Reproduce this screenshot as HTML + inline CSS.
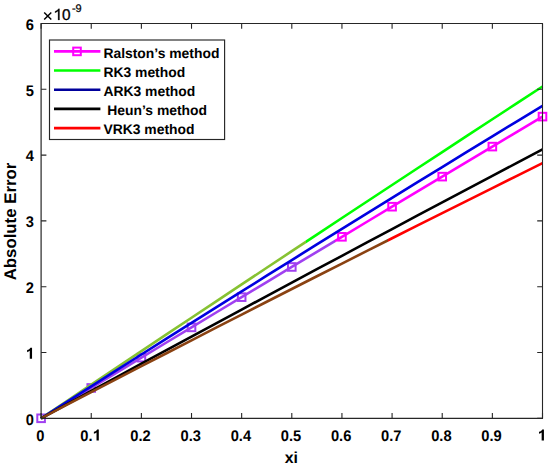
<!DOCTYPE html>
<html><head><meta charset="utf-8"><style>
html,body{margin:0;padding:0;background:#fff;}
svg{display:block;}
text{font-family:"Liberation Sans",sans-serif;}
</style></head><body>
<svg width="550" height="467" viewBox="0 0 550 467" text-rendering="geometricPrecision">
<rect width="550" height="467" fill="#fff"/>
<defs><linearGradient id="gm" gradientUnits="userSpaceOnUse" x1="41.1" y1="0" x2="542.5" y2="0"><stop offset="0.5862" stop-color="#a040f0"/><stop offset="0.5862" stop-color="#ff00ff"/></linearGradient><linearGradient id="gg" gradientUnits="userSpaceOnUse" x1="41.1" y1="0" x2="542.5" y2="0"><stop offset="0.5283" stop-color="#86c232"/><stop offset="0.5283" stop-color="#00ff00"/></linearGradient><linearGradient id="gr" gradientUnits="userSpaceOnUse" x1="41.1" y1="0" x2="542.5" y2="0"><stop offset="0.6919" stop-color="#8a4212"/><stop offset="0.6919" stop-color="#ff0000"/></linearGradient></defs>
<path d="M41.10 418.30 L66.17 403.12 L91.24 387.95 L116.31 372.79 L141.38 357.65 L166.45 342.51 L191.52 327.38 L216.59 312.26 L241.66 297.15 L266.73 282.05 L291.80 266.96 L316.87 251.88 L341.94 236.81 L367.01 221.75 L392.08 206.70 L417.15 191.66 L442.22 176.63 L467.29 161.61 L492.36 146.60 L517.43 131.60 L542.50 116.61" stroke="url(#gm)" stroke-width="2.6" fill="none" stroke-linejoin="round"/>
<rect x="37.30" y="414.50" width="7.6" height="7.6" fill="none" stroke="#a040f0" stroke-width="2"/><rect x="87.44" y="384.15" width="7.6" height="7.6" fill="none" stroke="#a040f0" stroke-width="2"/><rect x="137.58" y="353.85" width="7.6" height="7.6" fill="none" stroke="#a040f0" stroke-width="2"/><rect x="187.72" y="323.58" width="7.6" height="7.6" fill="none" stroke="#a040f0" stroke-width="2"/><rect x="237.86" y="293.35" width="7.6" height="7.6" fill="none" stroke="#a040f0" stroke-width="2"/><rect x="288.00" y="263.16" width="7.6" height="7.6" fill="none" stroke="#a040f0" stroke-width="2"/><rect x="338.14" y="233.01" width="7.6" height="7.6" fill="none" stroke="#ff00ff" stroke-width="2"/><rect x="388.28" y="202.90" width="7.6" height="7.6" fill="none" stroke="#ff00ff" stroke-width="2"/><rect x="438.42" y="172.83" width="7.6" height="7.6" fill="none" stroke="#ff00ff" stroke-width="2"/><rect x="488.56" y="142.80" width="7.6" height="7.6" fill="none" stroke="#ff00ff" stroke-width="2"/><rect x="538.70" y="112.81" width="7.6" height="7.6" fill="none" stroke="#ff00ff" stroke-width="2"/>
<path d="M41.10 418.30 L66.17 401.48 L91.24 384.68 L116.31 367.90 L141.38 351.16 L166.45 334.43 L191.52 317.73 L216.59 301.05 L241.66 284.40 L266.73 267.77 L291.80 251.17 L316.87 234.59 L341.94 218.03 L367.01 201.50 L392.08 185.00 L417.15 168.51 L442.22 152.06 L467.29 135.62 L492.36 119.22 L517.43 102.83 L542.50 86.47" stroke="url(#gg)" stroke-width="2.6" fill="none" stroke-linejoin="round"/>
<path d="M41.10 418.30 L66.17 402.29 L91.24 386.33 L116.31 370.40 L141.38 354.52 L166.45 338.67 L191.52 322.87 L216.59 307.10 L241.66 291.38 L266.73 275.70 L291.80 260.05 L316.87 244.45 L341.94 228.88 L367.01 213.36 L392.08 197.88 L417.15 182.43 L442.22 167.03 L467.29 151.66 L492.36 136.34 L517.43 121.06 L542.50 105.82" stroke="#0000e0" stroke-width="2.6" fill="none" stroke-linejoin="round"/>
<path d="M41.10 418.30 L66.17 404.62 L91.24 390.96 L116.31 377.33 L141.38 363.73 L166.45 350.15 L191.52 336.59 L216.59 323.06 L241.66 309.56 L266.73 296.08 L291.80 282.62 L316.87 269.19 L341.94 255.78 L367.01 242.40 L392.08 229.05 L417.15 215.72 L442.22 202.41 L467.29 189.13 L492.36 175.88 L517.43 162.65 L542.50 149.44" stroke="#000000" stroke-width="2.6" fill="none" stroke-linejoin="round"/>
<path d="M41.10 418.30 L66.17 405.21 L91.24 392.16 L116.31 379.14 L141.38 366.16 L166.45 353.22 L191.52 340.30 L216.59 327.43 L241.66 314.58 L266.73 301.78 L291.80 289.00 L316.87 276.27 L341.94 263.56 L367.01 250.89 L392.08 238.26 L417.15 225.66 L442.22 213.10 L467.29 200.57 L492.36 188.08 L517.43 175.62 L542.50 163.19" stroke="url(#gr)" stroke-width="2.6" fill="none" stroke-linejoin="round"/>
<path d="M41.10 418.3V413.0M41.10 23.5V28.8M91.24 418.3V413.0M91.24 23.5V28.8M141.38 418.3V413.0M141.38 23.5V28.8M191.52 418.3V413.0M191.52 23.5V28.8M241.66 418.3V413.0M241.66 23.5V28.8M291.80 418.3V413.0M291.80 23.5V28.8M341.94 418.3V413.0M341.94 23.5V28.8M392.08 418.3V413.0M392.08 23.5V28.8M442.22 418.3V413.0M442.22 23.5V28.8M492.36 418.3V413.0M492.36 23.5V28.8M542.50 418.3V413.0M542.50 23.5V28.8M41.1 418.30H46.4M542.5 418.30H537.2M41.1 352.50H46.4M542.5 352.50H537.2M41.1 286.70H46.4M542.5 286.70H537.2M41.1 220.90H46.4M542.5 220.90H537.2M41.1 155.10H46.4M542.5 155.10H537.2M41.1 89.30H46.4M542.5 89.30H537.2M41.1 23.50H46.4M542.5 23.50H537.2" stroke="#262626" stroke-width="1.1" fill="none"/>
<path d="M41.1 22.9V418.90000000000003" stroke="#262626" stroke-width="1.2" fill="none"/>
<path d="M542.5 22.9V418.90000000000003" stroke="#262626" stroke-width="1.1" fill="none"/>
<path d="M41.1 23.5H542.5" stroke="#262626" stroke-width="1.2" fill="none"/>
<path d="M41.1 418.3H542.5" stroke="#262626" stroke-width="1.2" fill="none"/>
<g font-weight="bold" font-size="14.7" fill="#000">
<g transform="translate(36.21 440.50) scale(1.0 1.05)"><text x="0.00" y="0">0</text></g>
<g transform="translate(80.22 440.50) scale(1.0 1.05)"><text x="0.00" y="0">0.</text><path d="M18.58 0.00L18.58 -10.53L16.89 -10.53C16.45 -9.63 15.20 -8.67 13.66 -8.31L13.66 -6.32C14.69 -6.62 15.57 -7.06 16.30 -7.57L16.30 0.00Z"/></g>
<g transform="translate(130.36 440.50) scale(1.0 1.05)"><text x="0.00" y="0">0.2</text></g>
<g transform="translate(180.50 440.50) scale(1.0 1.05)"><text x="0.00" y="0">0.3</text></g>
<g transform="translate(230.64 440.50) scale(1.0 1.05)"><text x="0.00" y="0">0.4</text></g>
<g transform="translate(280.78 440.50) scale(1.0 1.05)"><text x="0.00" y="0">0.5</text></g>
<g transform="translate(330.92 440.50) scale(1.0 1.05)"><text x="0.00" y="0">0.6</text></g>
<g transform="translate(381.06 440.50) scale(1.0 1.05)"><text x="0.00" y="0">0.7</text></g>
<g transform="translate(431.20 440.50) scale(1.0 1.05)"><text x="0.00" y="0">0.8</text></g>
<g transform="translate(481.34 440.50) scale(1.0 1.05)"><text x="0.00" y="0">0.9</text></g>
<g transform="translate(537.61 440.50) scale(1.0 1.05)"><path d="M6.32 0.00L6.32 -10.53L4.63 -10.53C4.19 -9.63 2.94 -8.67 1.40 -8.31L1.40 -6.32C2.43 -6.62 3.31 -7.06 4.04 -7.57L4.04 0.00Z"/></g>
<g transform="translate(25.73 424.60) scale(1.0 1.05)"><text x="0.00" y="0">0</text></g>
<g transform="translate(25.73 358.80) scale(1.0 1.05)"><path d="M6.32 0.00L6.32 -10.53L4.63 -10.53C4.19 -9.63 2.94 -8.67 1.40 -8.31L1.40 -6.32C2.43 -6.62 3.31 -7.06 4.04 -7.57L4.04 0.00Z"/></g>
<g transform="translate(25.73 293.00) scale(1.0 1.05)"><text x="0.00" y="0">2</text></g>
<g transform="translate(25.73 227.20) scale(1.0 1.05)"><text x="0.00" y="0">3</text></g>
<g transform="translate(25.73 161.40) scale(1.0 1.05)"><text x="0.00" y="0">4</text></g>
<g transform="translate(25.73 95.60) scale(1.0 1.05)"><text x="0.00" y="0">5</text></g>
<g transform="translate(25.73 29.80) scale(1.0 1.05)"><text x="0.00" y="0">6</text></g>
</g>
<g font-weight="bold" font-size="13.9" fill="#000">
<rect x="49.5" y="40.0" width="175.1" height="99.5" fill="#fff" stroke="#262626" stroke-width="1.15"/>
<line x1="54" y1="51.40" x2="100.4" y2="51.40" stroke="#ff00ff" stroke-width="2.6"/>
<rect x="73.2" y="47.60" width="7.6" height="7.6" fill="none" stroke="#ff00ff" stroke-width="2"/>
<text x="103.4" y="57.50" xml:space="preserve">Ralston’s method</text>
<line x1="54" y1="70.57" x2="100.4" y2="70.57" stroke="#00ff00" stroke-width="2.6"/>
<text x="103.4" y="76.67" xml:space="preserve">RK3 method</text>
<line x1="54" y1="89.74" x2="100.4" y2="89.74" stroke="#00009c" stroke-width="2.6"/>
<text x="103.4" y="95.84" xml:space="preserve">ARK3 method</text>
<line x1="54" y1="108.91" x2="100.4" y2="108.91" stroke="#000000" stroke-width="2.6"/>
<text x="103.4" y="115.01" xml:space="preserve"> Heun’s method</text>
<line x1="54" y1="128.08" x2="100.4" y2="128.08" stroke="#ff0000" stroke-width="2.6"/>
<text x="103.4" y="134.18" xml:space="preserve">VRK3 method</text>
</g>
<text x="291.3" y="462.9" text-anchor="middle" font-weight="bold" font-size="15.9">xi</text>
<text transform="translate(15.9 221.5) rotate(-90)" text-anchor="middle" font-weight="bold" font-size="16.8">Absolute Error</text>
<path d="M44.2 12.4L51.3 19.5M51.3 12.4L44.2 19.5" stroke="#000" stroke-width="1.45" fill="none"/>
<path d="M59.48 19.90L59.48 8.87L58.48 8.87C58.02 9.81 56.79 10.74 55.02 11.43L55.02 12.74C56.17 12.35 57.25 11.74 58.10 11.04L58.10 19.90Z" fill="#000" stroke="#000" stroke-width="0.3"/>
<text x="61.96" y="19.9" font-size="15.4" fill="#000" stroke="#000" stroke-width="0.3">0</text>
<text x="71.9" y="11.9" font-size="11" fill="#000" stroke="#000" stroke-width="0.25">-9</text>
</svg>
</body></html>
